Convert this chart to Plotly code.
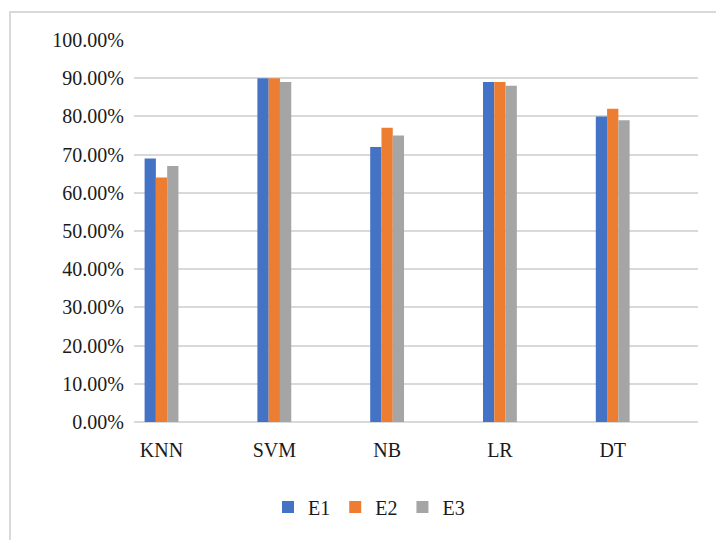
import plotly.graph_objects as go

# Accuracy of each classifier under the three experiments
models = ["KNN", "SVM", "NB", "LR", "DT"]
e1 = [0.69, 0.90, 0.72, 0.89, 0.80]
e2 = [0.64, 0.90, 0.77, 0.89, 0.82]
e3 = [0.67, 0.89, 0.75, 0.88, 0.79]
series_names = ["E1", "E2", "E3"]
series_colors = ["#4472C4", "#ED7D31", "#A5A5A5"]

W, H = 716, 540
L, R, T, B = 134, 18, 40, 118
pw, ph = W - L - R, H - T - B


def px_to_paper(x, y):
    return (x - L) / pw, (H - B - y) / ph


fig = go.Figure()
for name, vals, col in zip(series_names, [e1, e2, e3], series_colors):
    fig.add_trace(go.Bar(x=models, y=vals, name=name,
                         marker=dict(color=col, line=dict(width=0))))

font = "Liberation Serif"
x0, y0 = px_to_paper(10, 12)
x1, _ = px_to_paper(740, 0)
_, y1 = px_to_paper(0, 560)

fig.update_layout(
    width=W, height=H,
    margin=dict(l=L, r=R, t=T, b=B),
    paper_bgcolor="white", plot_bgcolor="white",
    barmode="group", bargap=0.7, bargroupgap=0.0,
    font=dict(family=font, size=20, color="#1a1a1a"),
    showlegend=True,
    legend=dict(orientation="h", x=px_to_paper(369, 0)[0], xanchor="center",
                y=px_to_paper(0, 507)[1], yanchor="middle",
                font=dict(family=font, size=20, color="#1a1a1a"),
                itemwidth=30, traceorder="normal"),
    xaxis=dict(range=[-0.244, 4.756], showgrid=False, showline=False,
               ticks="", ticklabelstandoff=14,
               tickfont=dict(family=font, size=20)),
    yaxis=dict(range=[0, 1.0], dtick=0.1, tickformat=".2%",
               showgrid=True, gridcolor="#d9d9d9", gridwidth=1.5,
               zeroline=True, zerolinecolor="#d9d9d9", zerolinewidth=1.5,
               showline=False, ticks="", ticklabelstandoff=9,
               tickfont=dict(family=font, size=20)),
    shapes=[dict(type="rect", xref="paper", yref="paper",
                 x0=x0, y0=y1, x1=x1, y1=y0,
                 line=dict(color="#d9d9d9", width=2), layer="below")],
)

fig.write_html("out.html")
